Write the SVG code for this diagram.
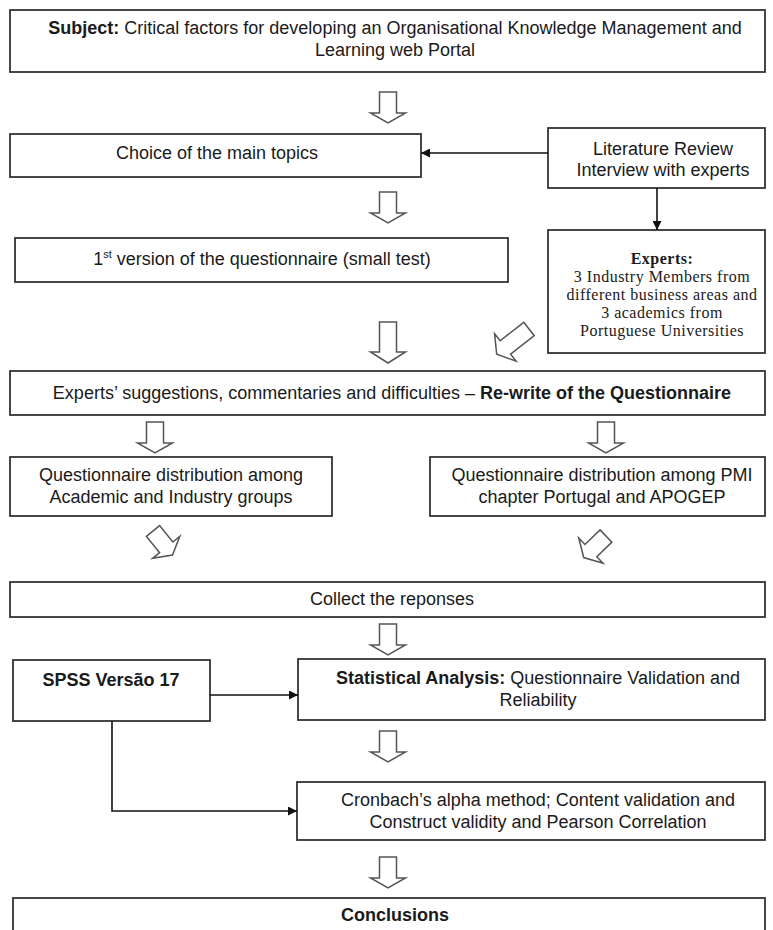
<svg xmlns="http://www.w3.org/2000/svg" width="773" height="930" viewBox="0 0 773 930">
<style>
.box{fill:#fff;stroke:#333;stroke-width:1.8}
.t{font-family:"Liberation Sans",Arial,sans-serif;font-size:18px;fill:#1a1a1a;text-anchor:middle}
.tm{font-family:"Liberation Serif","Times New Roman",serif;font-size:16px;letter-spacing:0.5px;fill:#1a1a1a;text-anchor:middle}
.b{font-weight:bold}
.barrow{fill:#fff;stroke:#555;stroke-width:1.5;stroke-linejoin:miter}
.conn{fill:none;stroke:#111;stroke-width:1.6}
</style>
<defs>
<marker id="ah" viewBox="0 0 10 10" refX="10" refY="5" markerWidth="9" markerHeight="9" markerUnits="userSpaceOnUse" orient="auto">
<path d="M0,0 L10,5 L0,10 Z" fill="#111"/>
</marker>
<path id="ar31" d="M-8.5,0 H8.5 V21 H17.5 L0,31 L-17.5,21 H-8.5 Z"/>
<path id="ar41" d="M-8.5,0 H8.5 V30 H17.5 L0,41 L-17.5,30 H-8.5 Z"/>
</defs>

<g id="subject">
<rect class="box" x="10" y="10" width="755" height="62"/>
<text class="t" x="395" y="34"><tspan class="b">Subject:</tspan> Critical factors for developing an Organisational Knowledge Management and</text>
<text class="t" x="395" y="56">Learning web Portal</text>
</g>

<g id="choice">
<rect class="box" x="10" y="134" width="411" height="43"/>
<text class="t" x="217" y="159">Choice of the main topics</text>
</g>

<g id="literature">
<rect class="box" x="548" y="128" width="217" height="60"/>
<text class="t" x="663" y="155">Literature Review</text>
<text class="t" x="663" y="176">Interview with experts</text>
</g>

<g id="first-version">
<rect class="box" x="15" y="238" width="493" height="44"/>
<text class="t" x="262" y="265">1<tspan font-size="11" dy="-7">st</tspan><tspan dy="7"> version of the questionnaire (small test)</tspan></text>
</g>

<g id="experts">
<rect class="box" x="548" y="230" width="217" height="123"/>
<text class="tm b" x="662" y="264">Experts:</text>
<text class="tm" x="662" y="282">3 Industry Members from</text>
<text class="tm" x="662" y="300">different business areas and</text>
<text class="tm" x="662" y="318">3 academics from</text>
<text class="tm" x="662" y="336">Portuguese Universities</text>
</g>

<g id="suggestions">
<rect class="box" x="10" y="371" width="755" height="44"/>
<text class="t" x="392" y="399">Experts’ suggestions, commentaries and difficulties – <tspan class="b">Re-write of the Questionnaire</tspan></text>
</g>

<g id="distribution-academic">
<rect class="box" x="10" y="457" width="322" height="59"/>
<text class="t" x="171" y="481">Questionnaire distribution among</text>
<text class="t" x="171" y="503">Academic and Industry groups</text>
</g>

<g id="distribution-pmi">
<rect class="box" x="430" y="457" width="335" height="59"/>
<text class="t" x="602" y="481">Questionnaire distribution among PMI</text>
<text class="t" x="602" y="503">chapter Portugal and APOGEP</text>
</g>

<g id="collect">
<rect class="box" x="10" y="582" width="755" height="35"/>
<text class="t" x="392" y="605">Collect the reponses</text>
</g>

<g id="spss">
<rect class="box" x="13" y="660" width="197" height="61"/>
<text class="t b" x="111" y="686">SPSS Versão 17</text>
</g>

<g id="statistical">
<rect class="box" x="298" y="659" width="467" height="61"/>
<text class="t" x="538" y="684"><tspan class="b">Statistical Analysis:</tspan> Questionnaire Validation and</text>
<text class="t" x="538" y="706">Reliability</text>
</g>

<g id="cronbach">
<rect class="box" x="297" y="782" width="468" height="58"/>
<text class="t" x="538" y="806">Cronbach’s alpha method; Content validation and</text>
<text class="t" x="538" y="828">Construct validity and Pearson Correlation</text>
</g>

<g id="conclusions">
<rect class="box" x="13" y="898" width="752" height="40"/>
<text class="t b" x="395" y="921">Conclusions</text>
</g>

<g id="connectors">
<use href="#ar31" class="barrow" transform="translate(388,92)"/>
<use href="#ar31" class="barrow" transform="translate(388,192)"/>
<use href="#ar41" class="barrow" transform="translate(388,322)"/>
<use href="#ar41" class="barrow" transform="translate(529,329) rotate(52)"/>
<use href="#ar31" class="barrow" transform="translate(155,422)"/>
<use href="#ar31" class="barrow" transform="translate(606,422)"/>
<use href="#ar31" class="barrow" transform="translate(153,531) rotate(-39)"/>
<use href="#ar31" class="barrow" transform="translate(606,536) rotate(46)"/>
<use href="#ar31" class="barrow" transform="translate(388,624)"/>
<use href="#ar31" class="barrow" transform="translate(388,731)"/>
<use href="#ar31" class="barrow" transform="translate(388,857)"/>
<path class="conn" d="M548,153 H421" marker-end="url(#ah)"/>
<path class="conn" d="M657,188 V230" marker-end="url(#ah)"/>
<path class="conn" d="M210,695 H298" marker-end="url(#ah)"/>
<path class="conn" d="M112,721 V811 H297" marker-end="url(#ah)"/>
</g>
</svg>
